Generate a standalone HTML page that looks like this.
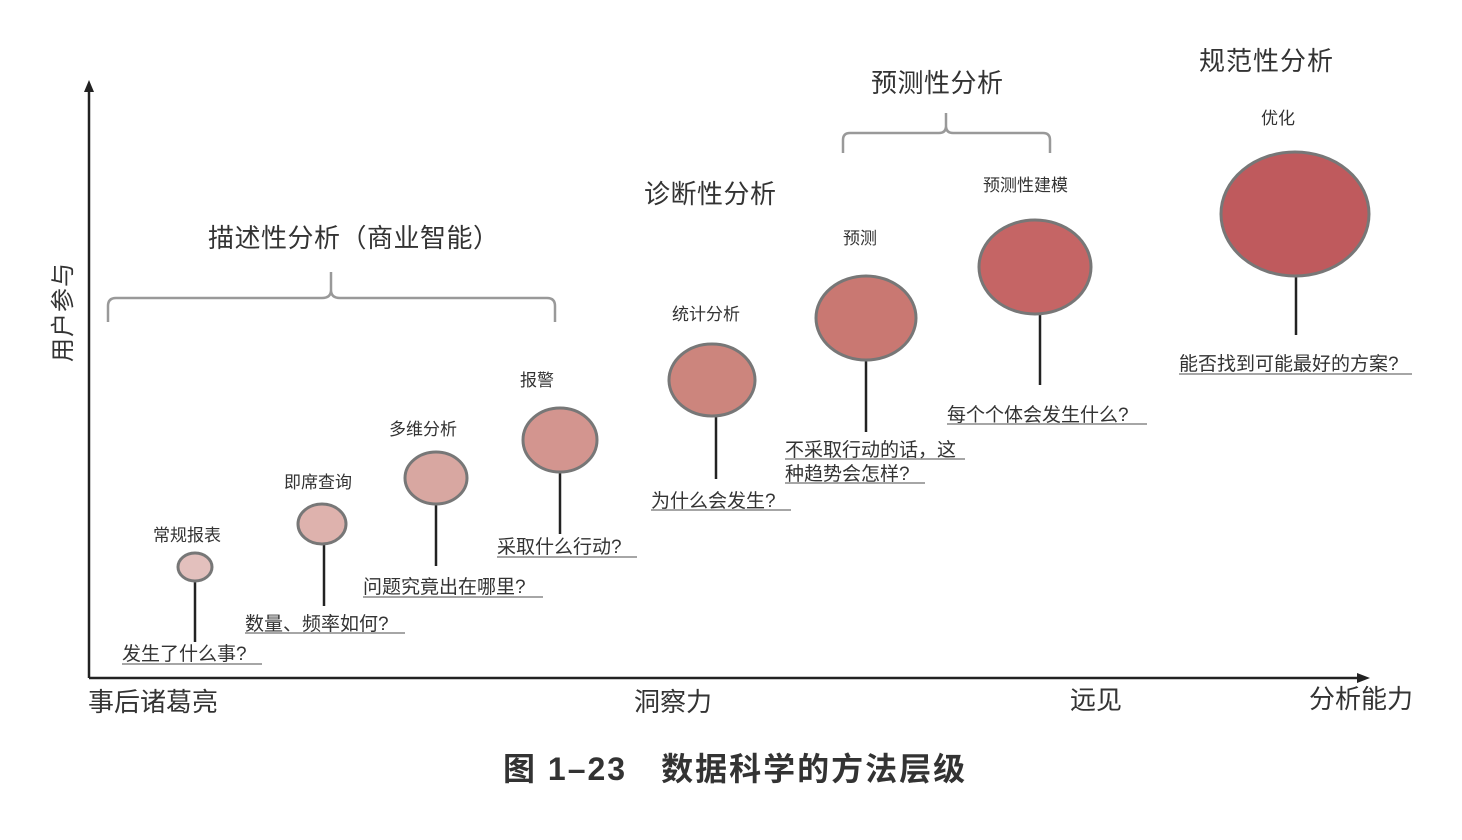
<!DOCTYPE html>
<html><head><meta charset="utf-8"><style>
html,body{margin:0;padding:0;background:#fff;}
svg{display:block;}
text{font-family:"Liberation Sans","Noto Sans CJK SC",sans-serif;fill:#333;}
</style></head><body>
<svg width="1462" height="840" viewBox="0 0 1462 840" xmlns="http://www.w3.org/2000/svg">
<line x1="89" y1="678" x2="89" y2="90" stroke="#222" stroke-width="2.5"/>
<polygon points="89,80 84,92 94,92" fill="#222"/>
<line x1="89" y1="678" x2="1360" y2="678" stroke="#222" stroke-width="2.5"/>
<polygon points="1370,678 1357,673 1357,683" fill="#222"/>
<text x="0" y="0" font-size="24" transform="translate(71,362) rotate(-90)" letter-spacing="1">用户参与</text>
<text x="88" y="711" font-size="26">事后诸葛亮</text>
<text x="634" y="711" font-size="26">洞察力</text>
<text x="1070" y="709" font-size="26">远见</text>
<text x="1309" y="708" font-size="26">分析能力</text>
<text x="503" y="780" font-size="32" font-weight="bold" fill="#222" letter-spacing="2">图 1–23　数据科学的方法层级</text>
<path d="M108,322 L108,306 Q108,298 116,298 L322,298 Q331,298 331,290 L331,272 M331,290 Q331,298 340,298 L547,298 Q555,298 555,306 L555,322" fill="none" stroke="#999" stroke-width="2.5"/>
<path d="M843,153 L843,140 Q843,133 850,133 L939,133 Q946,133 946,126 L946,113 M946,126 Q946,133 953,133 L1043,133 Q1050,133 1050,140 L1050,153" fill="none" stroke="#999" stroke-width="2.5"/>
<text x="208" y="247" font-size="26" letter-spacing="0.5">描述性分析（商业智能）</text>
<text x="644" y="203" font-size="26" letter-spacing="0.5">诊断性分析</text>
<text x="871" y="92" font-size="26" letter-spacing="0.5">预测性分析</text>
<text x="1199" y="70" font-size="26" letter-spacing="1">规范性分析</text>
<g stroke="#222" stroke-width="2.5">
<line x1="195" y1="580" x2="195" y2="642"/>
<line x1="324" y1="543" x2="324" y2="606"/>
<line x1="436" y1="503" x2="436" y2="566"/>
<line x1="560" y1="471" x2="560" y2="534"/>
<line x1="716" y1="415" x2="716" y2="479"/>
<line x1="866" y1="359" x2="866" y2="432"/>
<line x1="1040" y1="313" x2="1040" y2="385"/>
<line x1="1296" y1="275" x2="1296" y2="335"/>
</g>
<g stroke="#777" stroke-width="3">
<ellipse cx="195" cy="567" rx="17" ry="14" fill="#e3c0bd"/>
<ellipse cx="322" cy="524" rx="24" ry="20" fill="#deb2ad"/>
<ellipse cx="436" cy="478" rx="31" ry="26" fill="#d8a7a1"/>
<ellipse cx="560" cy="440" rx="37" ry="32" fill="#d3958f"/>
<ellipse cx="712" cy="380" rx="43" ry="36" fill="#cc857d"/>
<ellipse cx="866" cy="318" rx="50" ry="42" fill="#c97872"/>
<ellipse cx="1035" cy="267" rx="56" ry="47" fill="#c56565"/>
<ellipse cx="1295" cy="214" rx="74" ry="62" fill="#bf5a5d"/>
</g>
<g font-size="17">
<text x="153" y="541">常规报表</text>
<text x="284" y="488">即席查询</text>
<text x="389" y="435">多维分析</text>
<text x="520" y="386">报警</text>
<text x="672" y="320">统计分析</text>
<text x="843" y="244">预测</text>
<text x="983" y="191">预测性建模</text>
<text x="1261" y="124">优化</text>
</g>
<g font-size="19">
<text x="122" y="660">发生了什么事?</text>
<text x="245" y="630">数量、频率如何?</text>
<text x="363" y="593">问题究竟出在哪里?</text>
<text x="497" y="553">采取什么行动?</text>
<text x="651" y="507">为什么会发生?</text>
<text x="785" y="456">不采取行动的话，这</text>
<text x="785" y="480">种趋势会怎样?</text>
<text x="947" y="421">每个个体会发生什么?</text>
<text x="1179" y="370">能否找到可能最好的方案?</text>
</g>
<g stroke="#888" stroke-width="1.5">
<line x1="122" y1="664" x2="262" y2="664"/>
<line x1="245" y1="633" x2="405" y2="633"/>
<line x1="363" y1="597" x2="543" y2="597"/>
<line x1="497" y1="557" x2="637" y2="557"/>
<line x1="651" y1="510" x2="791" y2="510"/>
<line x1="785" y1="459" x2="965" y2="459"/>
<line x1="785" y1="483" x2="925" y2="483"/>
<line x1="947" y1="424" x2="1147" y2="424"/>
<line x1="1179" y1="374" x2="1412" y2="374"/>
</g>
</svg>
</body></html>
